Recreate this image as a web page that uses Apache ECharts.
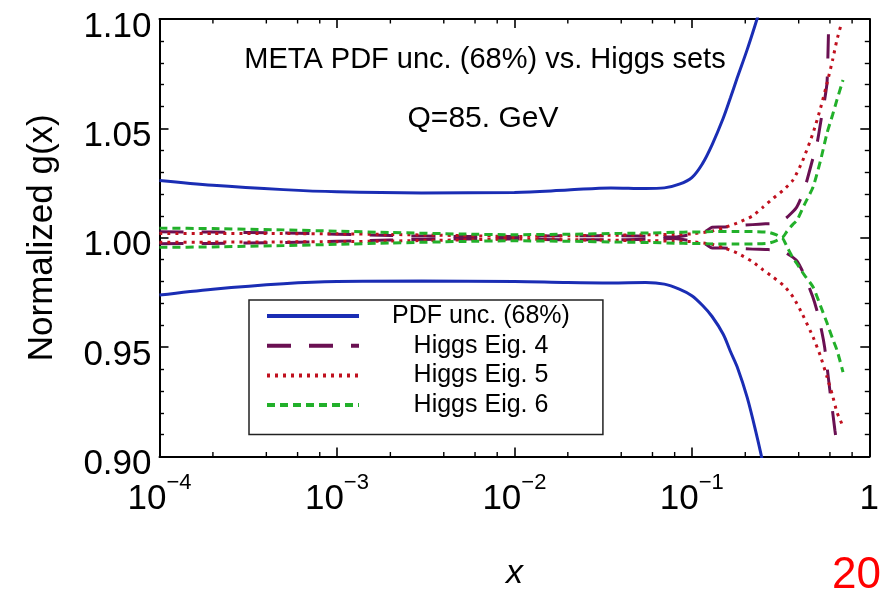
<!DOCTYPE html>
<html>
<head>
<meta charset="utf-8">
<script src="https://cdn.jsdelivr.net/npm/echarts@6/dist/echarts.min.js"></script>
<style>html,body{margin:0;padding:0;background:#fff;}#c{width:888px;height:591px;}</style>
</head>
<body>
<div id="c"></div>
<script>
// ---- data ----
const yTicks = [0.90, 0.95, 1.00, 1.05, 1.10];
const xMinorTicks = [2e-4,4e-4,6e-4,8e-4, 2e-3,4e-3,6e-3,8e-3, 2e-2,4e-2,6e-2,8e-2, 0.2,0.4,0.6,0.8];

const pdfX  = [1e-4, 2e-4, 5e-4, 1e-3, 3e-3, 1e-2, 2e-2, 3.5e-2, 5.5e-2, 7e-2, 8.5e-2, 0.1, 0.115, 0.13, 0.15, 0.165, 0.18, 0.205, 0.233, 0.25];
const pdfUp = [1.0262, 1.0240, 1.0220, 1.0210, 1.0205, 1.0207, 1.0218, 1.0228, 1.0225, 1.0228, 1.0245, 1.0275, 1.0340, 1.0425, 1.0545, 1.0640, 1.0730, 1.0860, 1.1000, 1.1080];
const pdfDn = [0.9738, 0.9765, 0.9790, 0.9800, 0.9802, 0.9800, 0.9795, 0.9793, 0.9795, 0.9788, 0.9765, 0.9735, 0.9690, 0.9640, 0.9560, 0.9480, 0.9410, 0.9270, 0.9090, 0.8980];

const eig4UpX = [1e-4,2e-4,5e-4,1e-3,2e-3,5e-3,1e-2,2e-2,4e-2,6e-2,8e-2,0.1, 0.12,0.13,0.15,0.18,0.22,0.26,0.30,0.34,0.39,0.43,0.48,0.51,0.54,0.56,0.578,0.59,0.597];
const eig4Up  = [1.0027,1.0026,1.0022,1.0016,1.0010,1.0006,1.0006,1.0009,1.0009,1.0006,1.0003,1.0015, 1.0030,1.0048,1.0049,1.0055,1.0060,1.0064,1.0067,1.0090,1.0140,1.0220,1.0360,1.0440,1.0560,1.0630,1.0710,1.0960,1.1040];
const eig4DnX = [1e-4,2e-4,5e-4,1e-3,2e-3,5e-3,1e-2,2e-2,4e-2,6e-2,8e-2,0.1, 0.12,0.13,0.15,0.18,0.22,0.26,0.30,0.34,0.39,0.43,0.48,0.51,0.54,0.56,0.578,0.60,0.62,0.64,0.655];
const eig4Dn  = [0.9973,0.9974,0.9978,0.9984,0.9990,0.9994,0.9994,0.9991,0.9991,0.9994,0.9997,0.9985, 0.9970,0.9953,0.9953,0.9951,0.9948,0.9946,0.9944,0.9930,0.9895,0.9830,0.9730,0.9660,0.9570,0.9500,0.9410,0.9300,0.9210,0.9120,0.9060];

const eig5UpX = [1e-4,2e-4,5e-4,1e-3,2e-3,5e-3,1e-2,2e-2,4e-2,6e-2,8e-2,0.1, 0.13,0.15,0.18,0.22,0.252,0.287,0.33,0.372,0.42,0.482,0.53,0.578,0.62,0.657,0.70];
const eig5Up  = [1.0020,1.0020,1.0019,1.0018,1.0015,1.0010,1.0006,1.0009,1.0012,1.0014,1.0015,1.0018, 1.0030,1.0045,1.0067,1.0100,1.0140,1.0180,1.0220,1.0264,1.0350,1.0479,1.0590,1.0707,1.0810,1.0904,1.0986];
const eig5DnX = [1e-4,2e-4,5e-4,1e-3,2e-3,5e-3,1e-2,2e-2,4e-2,6e-2,8e-2,0.1, 0.13,0.15,0.18,0.22,0.252,0.287,0.33,0.372,0.42,0.482,0.53,0.578,0.62,0.657,0.70,0.711];
const eig5Dn  = [0.9980,0.9980,0.9981,0.9982,0.9985,0.9990,0.9994,0.9991,0.9988,0.9986,0.9985,0.9982, 0.9970,0.9955,0.9930,0.9890,0.9853,0.9820,0.9780,0.9729,0.9650,0.9546,0.9460,0.9363,0.9280,0.9203,0.9150,0.9135];

const eig6X  = [1e-4,2e-4,5e-4,1e-3,2e-3,5e-3,1e-2,2e-2,4e-2,6e-2,8e-2,0.1, 0.13,0.17,0.22,0.27,0.30,0.322,0.344,0.37,0.392,0.43,0.482,0.53,0.578,0.62,0.657,0.711];
const eig6Up = [1.0044,1.0042,1.0036,1.0030,1.0024,1.0017,1.0014,1.0016,1.0020,1.0022,1.0025,1.0026, 1.0028,1.0029,1.0028,1.0025,1.0013,1.0000,1.0030,1.0060,1.0081,1.0150,1.0232,1.0350,1.0479,1.0560,1.0630,1.0721];
const eig6Dn = [0.9956,0.9958,0.9964,0.9970,0.9976,0.9983,0.9986,0.9984,0.9980,0.9978,0.9975,0.9974, 0.9972,0.9971,0.9972,0.9975,0.9987,1.0000,0.9958,0.9910,0.9880,0.9830,0.9775,0.9690,0.9610,0.9540,0.9487,0.9386];

const names = ['PDF unc. (68%)', 'Higgs Eig. 4', 'Higgs Eig. 5', 'Higgs Eig. 6'];
const titleText = 'META PDF unc. (68%) vs. Higgs sets';
const subText = 'Q=85. GeV';
const pageNo = '20';

// ---- build ----
const FONT = 'Liberation Sans, Arial, sans-serif';
const pairs = (xs, ys) => xs.map((x, i) => [x, ys[i]]);
const BLUE = '#1a2db4', PURPLE = '#6a1052', RED = '#c0101e', GREEN = '#22b02a';
const styles = {
  [names[0]]: {color: BLUE, type: 'solid', width: 3, smooth: 0.35},
  [names[1]]: {color: PURPLE, type: [24, 18], width: 3, smooth: 0.2},
  [names[2]]: {color: RED, type: [3, 5], width: 3, smooth: 0.2},
  [names[3]]: {color: GREEN, type: [8, 5], width: 3, smooth: 0.2}
};
function lineSeries(name, data) {
  const s = styles[name];
  return {
    type: 'line', name, data, showSymbol: false, symbol: 'none', smooth: s.smooth,
    clip: true, color: s.color,
    lineStyle: {color: s.color, width: s.width, type: s.type, cap: 'butt'},
    emphasis: {disabled: true}, z: 3
  };
}

const chart = echarts.init(document.getElementById('c'), null, {renderer: 'canvas'});
const yMin = 0.90, yMax = 1.10;

const option = {
  animation: false,
  backgroundColor: '#fff',
  grid: {left: 159.5, right: 18.7, top: 19, bottom: 134.5, containLabel: false, outerBoundsMode: 'none'},
  title: [
    {text: titleText, left: 480, top: 40, textAlign: 'center',
     textStyle: {fontSize: 29, fontWeight: 'normal', color: '#000', fontFamily: FONT}},
    {text: subText, left: 478, top: 99, textAlign: 'center',
     textStyle: {fontSize: 30, fontWeight: 'normal', color: '#000', fontFamily: FONT}},
    {text: pageNo, left: 827, top: 549,
     textStyle: {fontSize: 44, fontWeight: 'normal', color: '#ff0000', fontFamily: FONT}}
  ],
  legend: {
    data: names, orient: 'vertical', left: 249, top: 300,
    padding: [3.5, 33, 17, 16], itemGap: 4.7, itemWidth: 92, itemHeight: 14,
    borderColor: '#222', borderWidth: 1.5, backgroundColor: '#fff',
    selectedMode: false,
    lineStyle: {width: 4},
    itemStyle: {opacity: 0, borderWidth: 0},
    textStyle: {
      fontSize: 25, color: '#000', fontFamily: FONT,
      rich: {c: {width: 234, align: 'center', fontSize: 25, fontFamily: FONT}}
    },
    formatter: n => '{c|' + n + '}'
  },
  xAxis: [
    {type: 'log', logBase: 10, min: 1e-4, max: 1, position: 'bottom',
     name: 'x', nameLocation: 'middle', nameGap: 100,
     nameTextStyle: {fontSize: 34, fontStyle: 'italic', color: '#000', fontFamily: FONT, verticalAlign: 'top'},
     axisLine: {show: true, lineStyle: {color: '#000', width: 2}},
     axisTick: {show: true, inside: true, length: 9, lineStyle: {color: '#000', width: 1.6}},
     minorTick: {show: false},
     splitLine: {show: false},
     axisLabel: {
       show: true, margin: 15, showMinLabel: true, showMaxLabel: true,
       formatter: v => {
         const k = Math.round(Math.log10(v));
         if (k === 0) return '{b|1}';
         return '{b|10}{e|\u2212' + Math.abs(k) + '}';
       },
       rich: {
         b: {fontSize: 35, lineHeight: 45, verticalAlign: 'bottom', color: '#000', fontFamily: FONT},
         e: {fontSize: 22, lineHeight: 22, verticalAlign: 'top', color: '#000', fontFamily: FONT}
       }
     }},
    {type: 'log', logBase: 10, min: 1e-4, max: 1, position: 'top',
     axisLine: {show: true, lineStyle: {color: '#000', width: 2}},
     axisTick: {show: true, inside: true, length: 9, lineStyle: {color: '#000', width: 1.6}},
     axisLabel: {show: false}, splitLine: {show: false}}
  ],
  yAxis: [
    {type: 'value', min: yMin, max: yMax, interval: 0.05, position: 'left',
     name: 'Normalized g(x)', nameLocation: 'middle', nameGap: 100, nameRotate: 90,
     nameTextStyle: {fontSize: 35, color: '#000', fontFamily: FONT},
     axisLine: {show: true, lineStyle: {color: '#000', width: 2}},
     axisTick: {show: true, inside: true, length: 9, lineStyle: {color: '#000', width: 1.6}},
     minorTick: {show: true, splitNumber: 5, length: 4.5, lineStyle: {color: '#000', width: 1.4}},
     splitLine: {show: false},
     axisLabel: {margin: 8, formatter: v => '{a|' + v.toFixed(2) + '}',
       rich: {a: {fontSize: 35, padding: [16, 0, 0, 0], color: '#000', fontFamily: FONT}}}},
    {type: 'value', min: yMin, max: yMax, interval: 0.05, position: 'right',
     axisLine: {show: true, lineStyle: {color: '#000', width: 2}},
     axisTick: {show: true, inside: true, length: 9, lineStyle: {color: '#000', width: 1.6}},
     minorTick: {show: true, splitNumber: 5, length: 4.5, lineStyle: {color: '#000', width: 1.4}},
     splitLine: {show: false}, axisLabel: {show: false}}
  ],
  series: [
    lineSeries(names[0], pairs(pdfX, pdfUp)),
    lineSeries(names[0], pairs(pdfX, pdfDn)),
    lineSeries(names[1], pairs(eig4UpX, eig4Up)),
    lineSeries(names[1], pairs(eig4DnX, eig4Dn)),
    lineSeries(names[2], pairs(eig5UpX, eig5Up)),
    lineSeries(names[2], pairs(eig5DnX, eig5Dn)),
    lineSeries(names[3], pairs(eig6X, eig6Up)),
    lineSeries(names[3], pairs(eig6X, eig6Dn)),
    {
      type: 'custom', name: 'xMinorTicks', silent: true, clip: false, z: 5,
      data: xMinorTicks.map(v => [v, 1.0]),
      renderItem: (params, api) => {
        const x = api.value(0);
        const b = api.coord([x, yMin]);
        const t = api.coord([x, yMax]);
        const st = {stroke: '#000', lineWidth: 1.4};
        return {type: 'group', children: [
          {type: 'line', shape: {x1: b[0], y1: b[1], x2: b[0], y2: b[1] - 4.5}, style: st},
          {type: 'line', shape: {x1: t[0], y1: t[1], x2: t[0], y2: t[1] + 4.5}, style: st}
        ]};
      }
    }
  ]
};
chart.setOption(option);
</script>
</body>
</html>
